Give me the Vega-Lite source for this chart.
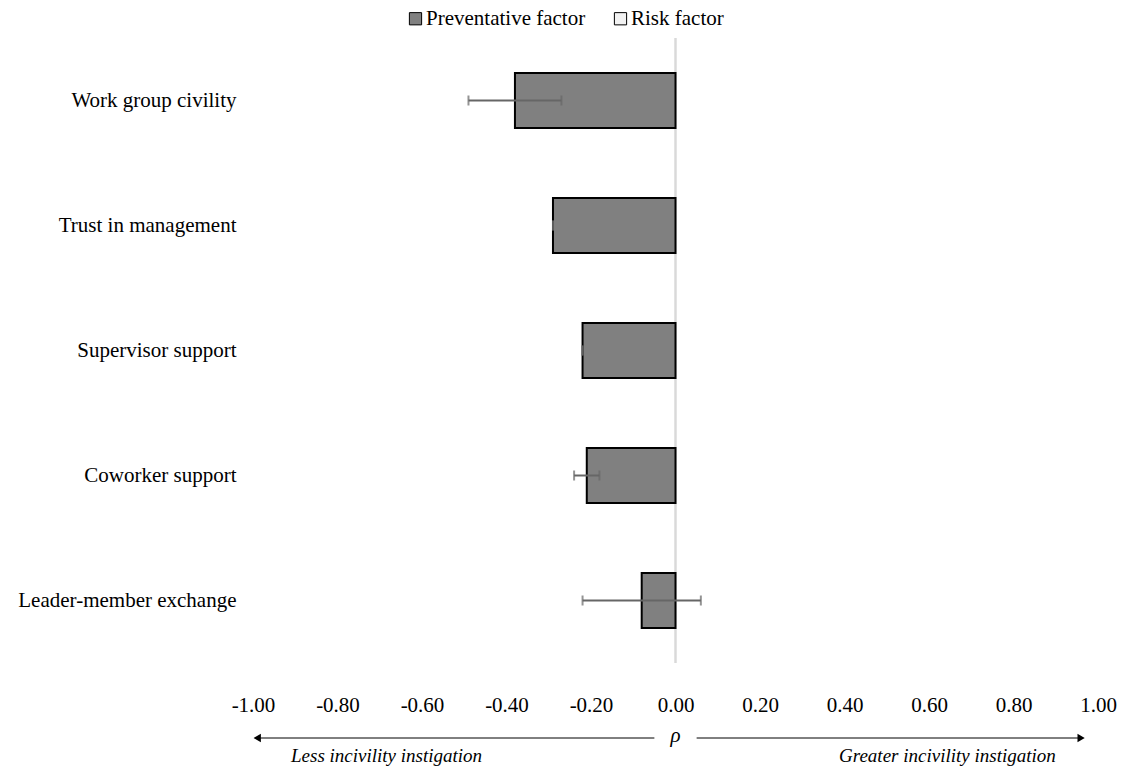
{
  "$schema": "https://vega.github.io/schema/vega-lite/v6.json",
  "padding": {"left": 17, "top": 8, "right": 10, "bottom": 5},
  "background": "white",
  "config": {
    "font": "Liberation Serif",
    "view": {"stroke": null},
    "text": {"font": "Liberation Serif"}
  },
  "width": 845,
  "height": 625,
  "datasets": {
    "bars": [
      {"construct": "Work group civility", "rho": -0.38, "lo": -0.49, "hi": -0.27, "type": "Preventative factor"},
      {"construct": "Trust in management", "rho": -0.29, "lo": -0.29, "hi": -0.29, "type": "Preventative factor"},
      {"construct": "Supervisor support", "rho": -0.22, "lo": -0.22, "hi": -0.22, "type": "Preventative factor"},
      {"construct": "Coworker support", "rho": -0.21, "lo": -0.24, "hi": -0.18, "type": "Preventative factor"},
      {"construct": "Leader-member exchange", "rho": -0.08, "lo": -0.22, "hi": 0.06, "type": "Preventative factor"}
    ],
    "arrows": [
      {"from": -0.05, "to": -0.99, "level": -0.12, "side": "left"},
      {"from": 0.05, "to": 0.96, "level": -0.12, "side": "right"}
    ],
    "notes": [
      {"label": "ρ", "pos": 0, "level": -0.12, "anchor": "center"},
      {"label": "Less incivility instigation", "pos": -0.91, "level": -0.149, "anchor": "left"},
      {"label": "Greater incivility instigation", "pos": 0.9, "level": -0.149, "anchor": "right"}
    ]
  },
  "layer": [
    {
      "data": {"name": "bars"},
      "layer": [
        {
          "mark": {"type": "rule", "color": "#d9d9d9", "strokeWidth": 1.5},
          "encoding": {"x": {"datum": 0, "type": "quantitative"}}
        },
        {
          "mark": {"type": "bar", "stroke": "black", "strokeWidth": 2},
          "encoding": {
            "y": {
              "field": "construct", "type": "nominal", "sort": null,
              "scale": {"paddingInner": 0.56, "paddingOuter": 0.28},
              "axis": {"title": null, "domain": false, "ticks": false, "labelPadding": 17, "labelLimit": 400, "labelFontSize": 21, "labelColor": "black", "labelFont": "Liberation Serif"}
            },
            "x": {
              "field": "rho", "type": "quantitative",
              "scale": {"domain": [-1, 1], "nice": false},
              "axis": {"title": null, "domain": false, "ticks": false, "grid": false, "values": [-1, -0.8, -0.6, -0.4, -0.2, 0, 0.2, 0.4, 0.6, 0.8, 1], "labelExpr": "replace(format(datum.value, '.2f'), '\u2212', '-')", "labelFlush": false, "labelPadding": 31, "labelFontSize": 21, "labelColor": "black", "labelFont": "Liberation Serif"}
            },
            "color": {
              "field": "type", "type": "nominal",
              "scale": {"domain": ["Preventative factor", "Risk factor"], "range": ["#808080", "#f2f2f2"]},
              "legend": {"title": null, "orient": "none", "direction": "horizontal", "legendX": 152, "legendY": -30, "symbolType": "square", "symbolSize": 150, "symbolStrokeColor": "black", "symbolStrokeWidth": 1, "symbolOpacity": 1, "labelFontSize": 21, "labelFont": "Liberation Serif", "labelColor": "black", "labelOffset": 0, "columnPadding": 24}
            }
          }
        },
        {
          "mark": {"type": "rule", "color": "#666666", "strokeWidth": 2},
          "encoding": {
            "y": {"field": "construct", "type": "nominal", "sort": null},
            "x": {"field": "lo", "type": "quantitative"},
            "x2": {"field": "hi"}
          }
        },
        {
          "mark": {"type": "tick", "color": "#666666", "thickness": 2, "size": 10, "orient": "vertical"},
          "encoding": {
            "y": {"field": "construct", "type": "nominal", "sort": null},
            "x": {"field": "lo", "type": "quantitative"}
          }
        },
        {
          "mark": {"type": "tick", "color": "#666666", "thickness": 2, "size": 10, "orient": "vertical"},
          "encoding": {
            "y": {"field": "construct", "type": "nominal", "sort": null},
            "x": {"field": "hi", "type": "quantitative"}
          }
        }
      ]
    },
    {
      "data": {"name": "arrows"},
      "layer": [
        {
          "mark": {"type": "rule", "color": "black", "strokeWidth": 1},
          "encoding": {
            "x": {"field": "from", "type": "quantitative"},
            "x2": {"field": "to"},
            "y": {"field": "level", "type": "quantitative", "scale": {"domain": [0, 1]}, "axis": null}
          }
        },
        {
          "mark": {"type": "point", "filled": true, "color": "black", "size": 70, "opacity": 1},
          "encoding": {
            "x": {"field": "to", "type": "quantitative"},
            "y": {"field": "level", "type": "quantitative", "scale": {"domain": [0, 1]}, "axis": null},
            "shape": {"field": "side", "type": "nominal", "scale": {"domain": ["left", "right"], "range": ["triangle-left", "triangle-right"]}, "legend": null}
          }
        }
      ]
    },
    {
      "data": {"name": "notes"},
      "layer": [
        {
          "transform": [{"filter": "datum.anchor === 'center'"}],
          "mark": {"type": "text", "fontStyle": "italic", "fontSize": 21, "font": "Liberation Serif", "color": "black", "align": "center", "baseline": "middle", "dy": -2},
          "encoding": {
            "x": {"field": "pos", "type": "quantitative"},
            "y": {"field": "level", "type": "quantitative", "scale": {"domain": [0, 1]}, "axis": null},
            "text": {"field": "label"}
          }
        },
        {
          "transform": [{"filter": "datum.anchor === 'left'"}],
          "mark": {"type": "text", "fontStyle": "italic", "fontSize": 19, "font": "Liberation Serif", "color": "black", "align": "left", "baseline": "middle"},
          "encoding": {
            "x": {"field": "pos", "type": "quantitative"},
            "y": {"field": "level", "type": "quantitative", "scale": {"domain": [0, 1]}, "axis": null},
            "text": {"field": "label"}
          }
        },
        {
          "transform": [{"filter": "datum.anchor === 'right'"}],
          "mark": {"type": "text", "fontStyle": "italic", "fontSize": 19, "font": "Liberation Serif", "color": "black", "align": "right", "baseline": "middle"},
          "encoding": {
            "x": {"field": "pos", "type": "quantitative"},
            "y": {"field": "level", "type": "quantitative", "scale": {"domain": [0, 1]}, "axis": null},
            "text": {"field": "label"}
          }
        }
      ]
    }
  ],
  "resolve": {"scale": {"y": "independent", "shape": "independent"}}
}
